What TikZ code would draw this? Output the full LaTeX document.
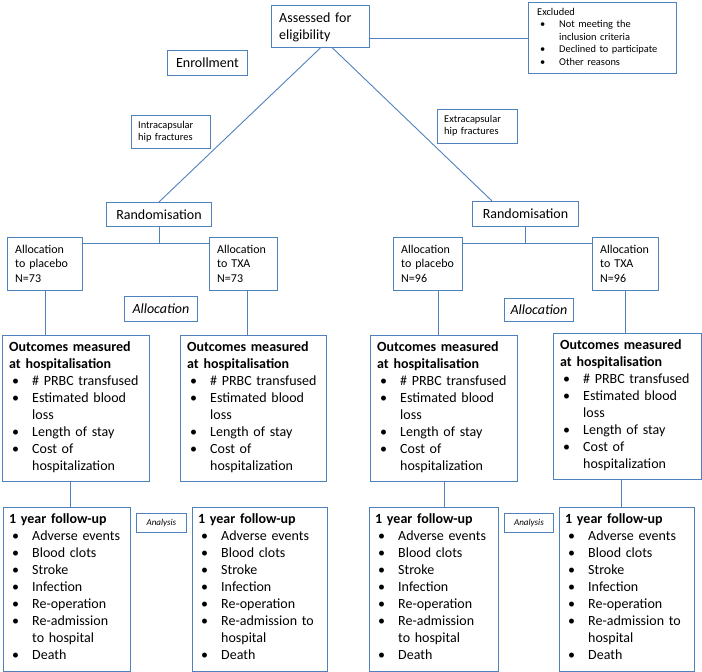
\documentclass[tikz,border=0pt]{standalone}
\usepackage{fontspec}
\setmainfont{Carlito}
\usetikzlibrary{calc}
\definecolor{boxblue}{RGB}{79,129,189}
\newcommand{\bli}[2]{\hspace*{3pt}\makebox[#1][l]{•}#2}
\newcommand{\cli}[2]{\hspace*{\dimexpr#1+3pt\relax}#2}
\tikzset{
  box/.style={draw=boxblue, line width=0.9pt, anchor=north west, inner sep=0pt},
  txt/.style={anchor=north west, inner sep=0pt, align=left, text width=#1},
  conn/.style={draw=boxblue, line width=0.9pt},
  fxiv/.style={font=\fontsize{14}{17}\selectfont},
  fxii/.style={font=\fontsize{12}{14.5}\selectfont},
  fx/.style={font=\fontsize{10.4}{12.5}\selectfont},
}
\begin{document}
\begin{tikzpicture}[x=1pt,y=-1pt]
\useasboundingbox (0,0) rectangle (702,672);
% boxes
\node[box, minimum width=98pt, minimum height=42pt] (assessed) at (271,5) {};
\node[box, minimum width=80pt, minimum height=25pt, fxiv] (enroll) at (167,50) {Enrollment};
\node[box, minimum width=148pt, minimum height=71pt] (excl) at (528,2) {};
\node[box, minimum width=79pt, minimum height=33pt] (intra) at (131,115) {};
\node[box, minimum width=80pt, minimum height=34pt] (extra) at (437,109) {};
\node[box, minimum width=105pt, minimum height=24pt, fxiv] (rand1) at (106,202) {Randomisation};
\node[box, minimum width=106pt, minimum height=25pt, fxiv] (rand2) at (472,201) {Randomisation};
\node[box, minimum width=75pt, minimum height=53pt] (a1) at (7,237) {};
\node[box, minimum width=68pt, minimum height=53pt] (a2) at (209,237) {};
\node[box, minimum width=69pt, minimum height=53pt] (a3) at (393,237) {};
\node[box, minimum width=66pt, minimum height=53pt] (a4) at (592,237) {};
\node[box, minimum width=73pt, minimum height=25pt, fxiv] (alloc1) at (124,296) {\textit{Allocation}};
\node[box, minimum width=69pt, minimum height=23pt, fxiv] (alloc2) at (504,298) {\textit{Allocation}};
\node[box, minimum width=147pt, minimum height=146pt] (o1) at (2,335) {};
\node[box, minimum width=146pt, minimum height=146pt] (o2) at (180,335) {};
\node[box, minimum width=147pt, minimum height=146pt] (o3) at (370,335) {};
\node[box, minimum width=148pt, minimum height=146pt] (o4) at (553,333) {};
\node[box, minimum width=50pt, minimum height=19pt, font=\fontsize{9}{11}\selectfont] (an1) at (136,513) {\textit{Analysis}};
\node[box, minimum width=49pt, minimum height=19pt, font=\fontsize{9}{11}\selectfont] (an2) at (504,513) {\textit{Analysis}};
\node[box, minimum width=127pt, minimum height=164pt] (f1) at (3,507) {};
\node[box, minimum width=135pt, minimum height=164pt] (f2) at (192,507) {};
\node[box, minimum width=129pt, minimum height=164pt] (f3) at (369,507) {};
\node[box, minimum width=135pt, minimum height=164pt] (f4) at (559,507) {};
% texts
\node[txt=120pt, fxiv] (assessedT) at (279,10) {\rule{0pt}{12pt}Assessed for\\eligibility};
\node[txt=150pt, fx] (exclT) at (537,6) {\rule{0pt}{9pt}Excluded\\\bli{19pt}{Not meeting the}\\\cli{19pt}{inclusion criteria}\\\bli{19pt}{Declined to participate}\\\bli{19pt}{Other reasons}};
\node[txt=90pt, fx] (intraT) at (138,119) {\rule{0pt}{9pt}Intracapsular\\hip fractures};
\node[txt=90pt, fx] (extraT) at (444,113) {\rule{0pt}{9pt}Extracapsular\\hip fractures};
\node[txt=80pt, fxii] (a1T) at (15,243) {\rule{0pt}{10pt}Allocation\\to placebo\\N=73};
\node[txt=80pt, fxii] (a2T) at (217,243) {\rule{0pt}{10pt}Allocation\\to TXA\\N=73};
\node[txt=80pt, fxii] (a3T) at (401,243) {\rule{0pt}{10pt}Allocation\\to placebo\\N=96};
\node[txt=80pt, fxii] (a4T) at (600,243) {\rule{0pt}{10pt}Allocation\\to TXA\\N=96};
\foreach \b in {o1,o2,o3,o4}{
  \node[txt=160pt, fxiv] (\b T) at ([xshift=7pt,yshift=-4pt]\b.north west) {\rule{0pt}{12pt}\textbf{Outcomes measured}\\\textbf{at hospitalisation}\\\bli{20pt}{\# PRBC transfused}\\\bli{20pt}{Estimated blood}\\\cli{20pt}{loss}\\\bli{20pt}{Length of stay}\\\bli{20pt}{Cost of}\\\cli{20pt}{hospitalization}};
}
\foreach \b in {f1,f3}{
  \node[txt=160pt, fxiv] (\b T) at ([xshift=6pt,yshift=-4pt]\b.north west) {\rule{0pt}{12pt}\textbf{1 year follow-up}\\\bli{20pt}{Adverse events}\\\bli{20pt}{Blood clots}\\\bli{20pt}{Stroke}\\\bli{20pt}{Infection}\\\bli{20pt}{Re-operation}\\\bli{20pt}{Re-admission}\\\cli{20pt}{to hospital}\\\bli{20pt}{Death}};
}
\foreach \b in {f2,f4}{
  \node[txt=160pt, fxiv] (\b T) at ([xshift=6pt,yshift=-4pt]\b.north west) {\rule{0pt}{12pt}\textbf{1 year follow-up}\\\bli{20pt}{Adverse events}\\\bli{20pt}{Blood clots}\\\bli{20pt}{Stroke}\\\bli{20pt}{Infection}\\\bli{20pt}{Re-operation}\\\bli{20pt}{Re-admission to}\\\cli{20pt}{hospital}\\\bli{20pt}{Death}};
}
% connectors
\coordinate (ex) at ([yshift=-12pt]assessed.east);
\draw[conn] (ex) -- (ex -| excl.west);
\draw[conn] (assessed.south) -- (rand1.north);
\coordinate (asR) at ([xshift=12pt]assessed.south);
\coordinate (r2in) at ([xshift=20pt]rand2.north west);
\draw[conn] (asR) -- (r2in);
\coordinate (jL) at ([yshift=-6pt]a1.north east);
\draw[conn] (rand1.south) -- (rand1.south |- jL);
\draw[conn] (jL) -- (jL -| a2.west);
\coordinate (jR) at ([yshift=-6pt]a3.north east);
\draw[conn] (rand2.south) -- (rand2.south |- jR);
\draw[conn] (jR) -- (jR -| a4.west);
\draw[conn] (a1.south) -- (a1.south |- o1.north);
\coordinate (p2) at ([xshift=4pt]a2.south);
\draw[conn] (p2) -- (p2 |- o2.north);
\coordinate (p3) at ([xshift=10pt]a3.south);
\draw[conn] (p3) -- (p3 |- o3.north);
\draw[conn] (a4.south) -- (a4.south |- o4.north);
\coordinate (q1) at ([xshift=-6pt]o1.south);
\draw[conn] (q1) -- (q1 |- f1.north);
\draw[conn] (o3.south) -- (o3.south |- f3.north);
\coordinate (q4) at ([xshift=-6pt]o4.south);
\draw[conn] (q4) -- (q4 |- f4.north);
\end{tikzpicture}
\end{document}
